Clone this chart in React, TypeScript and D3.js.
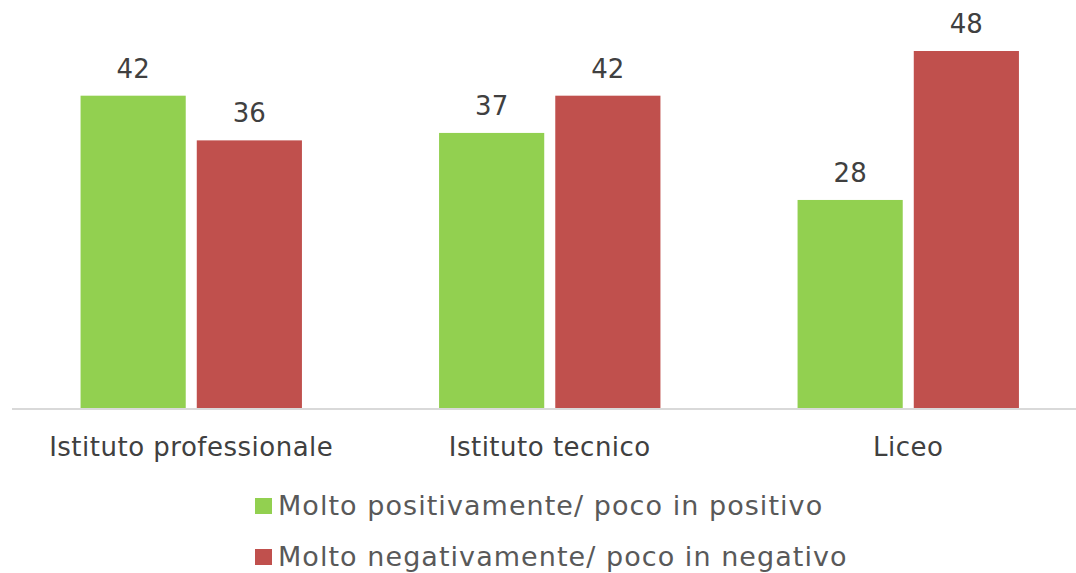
import React, { useRef, useEffect } from 'react';
import * as d3 from 'd3';

const categories = ['Istituto professionale', 'Istituto tecnico', 'Liceo'];
const seriesNames = ['Molto positivamente/ poco in positivo', 'Molto negativamente/ poco in negativo'];
const positivo = [42, 37, 28];
const negativo = [36, 42, 48];
const seriesColors = ['#92D050', '#C0504D'];

const W = 1076;
const H = 573;
const FONT = '"DejaVu Sans", sans-serif';

export default function App() {
    const svg_ref = useRef<SVGSVGElement>(null);

    useEffect(() => {
        const svg = d3.select(svg_ref.current);
        svg.selectAll('*').remove();

        const rows = categories.map((c, i) => ({ cat: c, vals: [positivo[i], negativo[i]] }));

        const baseY = 408.5;
        const x0 = d3.scaleBand<string>().domain(categories).range([12, 1087.5]).padding(0);
        const x1 = d3.scaleBand<number>()
            .domain([0, 1])
            .range([0, x0.bandwidth()])
            .paddingInner(0.095)
            .paddingOuter(0.59);
        const y = d3.scaleLinear().domain([0, 48]).range([baseY, 51]);

        const g = svg.append('g');

        const groups = g.selectAll('g.cat')
            .data(rows)
            .join('g')
            .attr('class', 'cat')
            .attr('transform', d => `translate(${x0(d.cat)},0)`);

        groups.selectAll('rect')
            .data(d => d.vals.map((v, i) => ({ v, i })))
            .join('rect')
            .attr('x', d => x1(d.i)!)
            .attr('width', x1.bandwidth())
            .attr('y', d => y(d.v))
            .attr('height', d => baseY - y(d.v))
            .attr('fill', d => seriesColors[d.i]);

        groups.selectAll('text.val')
            .data(d => d.vals.map((v, i) => ({ v, i })))
            .join('text')
            .attr('class', 'val')
            .attr('x', d => x1(d.i)! + x1.bandwidth() / 2)
            .attr('y', d => y(d.v) - 18)
            .attr('text-anchor', 'middle')
            .attr('font-family', FONT)
            .attr('font-size', 26)
            .attr('fill', '#404040')
            .text(d => d.v);

        // axis line
        g.append('line')
            .attr('x1', 12)
            .attr('x2', W)
            .attr('y1', baseY + 0.5)
            .attr('y2', baseY + 0.5)
            .attr('stroke', '#D9D9D9')
            .attr('stroke-width', 2);

        g.selectAll('text.cat')
            .data(categories)
            .join('text')
            .attr('class', 'cat')
            .attr('x', d => x0(d)! + x0.bandwidth() / 2)
            .attr('y', 456)
            .attr('text-anchor', 'middle')
            .attr('font-family', FONT)
            .attr('font-size', 26)
            .attr('letter-spacing', 0.5)
            .attr('fill', '#404040')
            .text(d => d);

        const legend = g.selectAll('g.leg')
            .data(seriesNames)
            .join('g')
            .attr('class', 'leg')
            .attr('transform', (d, i) => `translate(255,${498 + i * 51})`);

        legend.append('rect')
            .attr('width', 17)
            .attr('height', 16)
            .attr('fill', (d, i) => seriesColors[i]);

        legend.append('text')
            .attr('x', 23)
            .attr('y', 17)
            .attr('font-family', FONT)
            .attr('font-size', 27)
            .attr('letter-spacing', 1.05)
            .attr('fill', '#595959')
            .text(d => d);
    }, []);

    return (
        <svg ref={svg_ref} width={W} height={H}
            style={{ position: 'absolute', left: 0, top: 0, background: '#fff' }} />
    );
}
